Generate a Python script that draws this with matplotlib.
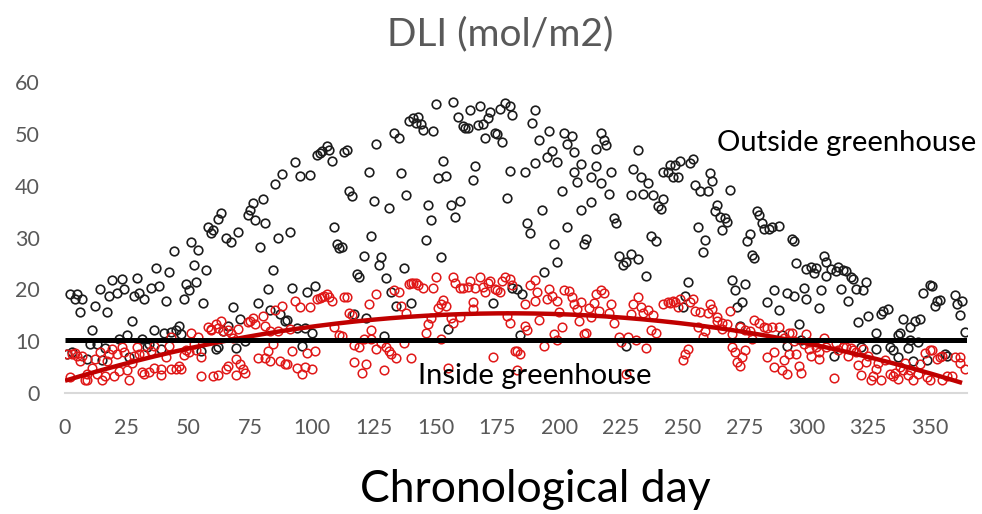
import numpy as np
import matplotlib
matplotlib.use("Agg")
import matplotlib.pyplot as plt

plt.rcParams['font.family'] = ['Lato', 'DejaVu Sans']

# Daily light integral outside the greenhouse (day of year, mol/m2)
outside_day = [
    1, 2, 3, 4, 5, 6, 7, 9, 10, 11, 12, 13, 14, 15, 16, 17, 18, 19,
    21, 22, 23, 24, 25, 26, 27, 28, 29, 30, 31, 32, 33, 34, 35, 36, 37, 38, 39, 40,
    41, 42, 43, 44, 45, 46, 47, 48, 49, 50, 51, 52, 53, 54, 55, 56, 57, 58, 59, 60, 61, 62,
    62, 63, 64, 65, 66, 67, 68, 69, 70, 71, 73, 74, 75, 76, 77, 78, 79, 80, 81, 82,
    83, 84, 85, 86, 87, 88, 89, 90, 91, 92, 93, 94, 95, 96, 97, 98, 99, 100, 101, 102,
    103, 104, 106, 107, 108, 109, 110, 111, 112, 113, 114, 115, 116, 117, 118, 119, 121,
    122, 123, 124, 125, 126, 127, 128, 129, 130, 131, 132, 133, 134, 135, 136, 137, 138, 139,
    140, 141, 142, 143, 144, 145, 146, 147, 148, 149, 150, 151, 152, 153, 154, 155, 156, 157,
    158, 159, 160, 161, 162, 163, 164, 165, 166, 167, 168, 169, 170, 171, 172, 173, 174, 175,
    176, 177, 178, 179, 180, 180, 181, 181,
    183, 184, 185, 186, 187, 188, 189, 190, 190, 192, 193, 194, 195, 196, 197, 198, 199, 199,
    201, 202, 203, 203, 205, 206, 206, 207, 209, 209, 210, 211, 213, 213, 215, 215, 217, 217,
    218, 219, 220, 221, 222, 223, 224, 226, 227, 227, 229, 229, 230, 232, 232, 233, 234, 235,
    236, 237, 238, 239, 240, 241, 242, 242,
    244, 245, 246, 247, 248, 249, 250, 251, 252, 253, 254, 255, 256, 257, 258, 259, 260, 261,
    262, 263, 264, 265, 266, 267, 268, 269, 270, 271, 272, 273, 274, 275, 276, 277, 278, 279,
    280, 281, 282, 283, 284, 285, 286, 287, 289, 289, 290, 292, 292, 294, 295, 295, 296, 297,
    298, 299, 300, 300, 302, 303,
    304, 305, 306, 307, 308, 308, 310, 311, 312, 313, 314, 315, 316, 317, 318, 319, 320, 321,
    322, 323, 324, 325, 328, 328, 330, 331, 333, 334, 335, 337, 337, 338, 339, 341, 342, 342,
    343, 344, 345, 346, 347, 349, 350, 351, 352, 353, 354, 356, 357, 360, 361, 362, 363, 364,
]
outside_dli = [
    7.5, 19.1, 7.9, 18.2, 19.1, 15.7, 18.2, 6.6, 9.5, 12.1, 16.9, 9.5, 20.0, 6.5, 8.7, 15.7, 18.8, 21.8,
    19.3, 10.4, 22.1, 20.1, 11.3, 7.0, 14.0, 18.7, 22.2, 19.4, 10.4, 18.1, 8.9, 9.5, 20.3, 12.2, 24.2, 20.6, 8.6, 11.6,
    17.8, 23.4, 11.8, 27.4, 12.2, 13.0, 11.4, 18.2, 21.0, 19.9, 29.2, 24.8, 21.4, 27.5, 8.1, 17.3, 23.7, 32.1, 30.9, 31.4, 8.6, 33.6,
    9.0, 34.7, 12.0, 30.0, 13.0, 29.1, 16.7, 8.7, 31.1, 14.4, 10.0, 34.4, 35.3, 36.6, 33.4, 17.3, 28.1, 37.5, 32.8, 20.0,
    16.0, 23.7, 40.3, 29.9, 15.3, 42.3, 14.0, 14.1, 31.1, 20.2, 44.5, 12.6, 41.9, 9.2, 12.6, 19.5, 42.1, 11.6, 20.7, 45.8,
    46.3, 46.6, 47.6, 46.8, 44.8, 32.0, 28.7, 27.9, 28.1, 46.5, 46.8, 38.9, 37.9, 15.3, 22.9, 22.4, 26.4,
    14.5, 42.7, 30.3, 37.0, 48.0, 24.7, 26.3, 11.1, 22.2, 35.7, 19.6, 50.1, 16.8, 49.2, 42.5, 24.1, 38.2, 52.5,
    17.3, 53.1, 52.1, 53.2, 51.9, 50.7, 29.5, 36.2, 33.3, 50.5, 55.7, 41.4, 26.3, 44.8, 41.8, 12.4, 36.3, 56.0,
    33.9, 53.2, 37.1, 51.5, 51.0, 51.0, 54.5, 41.0, 43.8, 51.6, 55.4, 51.9, 49.1, 53.1, 54.1, 17.3, 50.1, 50.0,
    54.7, 48.3, 55.9, 37.6, 55.4, 42.9, 53.5, 20.3,
    20.1, 11.3, 19.1, 42.6, 32.7, 30.8, 52.0, 44.4, 54.5, 48.8, 35.3, 23.3, 45.5, 50.5, 46.7, 28.8, 25.3, 44.5,
    38.9, 50.1, 32.1, 48.1, 49.6, 46.5, 42.7, 40.7, 35.3, 44.1, 28.8, 29.7, 41.7, 36.9, 43.8, 47.1, 40.4, 50.1,
    48.8, 47.9, 38.3, 42.7, 33.8, 32.8, 26.5, 24.7, 25.3, 9.1, 26.9, 38.1, 43.1, 25.9, 46.8, 41.7, 38.3, 22.5,
    40.4, 30.3, 38.1, 29.3, 36.1, 35.4, 42.6, 37.5,
    42.6, 44.0, 41.7, 44.0, 41.6, 44.7, 16.6, 18.7, 21.5, 44.3, 45.2, 40.2, 32.0, 38.9, 27.3, 29.5, 39.0, 42.5,
    40.8, 35.1, 36.3, 34.0, 31.5, 33.8, 33.0, 39.2, 21.8, 19.8, 16.6, 13.0, 17.5, 21.1, 29.3, 30.6, 26.6, 26.1,
    35.1, 34.4, 32.8, 31.6, 17.6, 31.6, 32.1, 19.8, 16.1, 32.3, 11.3, 19.3, 9.2, 29.7, 29.3, 18.7, 25.1, 13.4,
    10.3, 20.3, 24.0, 18.2, 24.3, 23.1,
    24.2, 16.5, 19.9, 26.5, 22.6, 25.3, 24.0, 7.2, 23.6, 24.3, 20.0, 23.7, 23.5, 17.8, 22.3, 22.0, 20.0, 13.8,
    8.9, 19.9, 21.4, 14.9, 8.5, 11.6, 15.3, 15.8, 16.3, 9.0, 8.3, 11.3, 6.9, 11.6, 14.4, 8.8, 10.3, 12.8,
    6.3, 14.0, 9.9, 14.4, 19.3, 6.4, 20.9, 20.7, 16.9, 17.8, 17.9, 7.6, 7.2, 19.0, 17.1, 15.1, 17.8, 11.8,
]

# Daily light integral inside the greenhouse
inside_day = [
    1, 2, 3, 4, 5, 6, 7, 8, 9, 9, 11, 12, 13, 14, 15, 16, 17, 18, 19, 20,
    21, 22, 23, 24, 25, 26, 27, 28, 29, 30, 31, 32, 32, 34, 35, 36, 36, 39, 39, 41,
    42, 43, 43, 45, 46, 47, 48, 49, 50, 51, 52, 53, 54, 55, 55, 58, 59, 59, 60, 61,
    62, 62, 63, 64, 65, 66, 66, 67, 68, 69, 69, 70, 71, 72, 73, 74, 75, 76, 77, 78,
    80, 81, 81, 82, 83, 83, 84, 85, 86, 87, 88, 89, 90, 91, 92, 93, 94, 95, 96, 97,
    98, 99, 100, 101, 102, 103, 104, 105, 106, 107, 108, 109, 111, 112, 113, 114, 115, 116, 117, 117,
    119, 120, 121,
    122, 123, 124, 124, 126, 126, 128, 129, 130, 131, 132, 133, 134, 135, 136, 137, 138, 139, 140, 140,
    141, 142, 143, 145, 146, 147, 148, 149, 150, 151, 152, 152, 153, 154, 155, 156, 157, 157, 158, 160,
    160, 161, 163, 164, 165, 165, 166, 168, 169, 170, 171, 172, 173, 174, 175, 176, 177, 178, 179, 180,
    180, 181, 182,
    183, 183, 184, 186, 186, 187, 188, 190, 190, 191, 192, 194, 195, 196, 197, 198, 199, 199, 200, 201,
    202, 204, 205, 206, 207, 208, 209, 210, 211, 212, 213, 214, 215, 216, 217, 218, 220, 221, 222, 224,
    225, 227, 228, 229, 230, 231, 232, 233, 234, 235, 236, 237, 238, 239, 242,
    244, 245, 246, 247, 248, 249, 250, 251, 252, 253, 254, 255, 256, 257, 258, 259, 260, 261, 262, 264,
    264, 266, 266, 268, 269, 270, 270, 271, 272, 273, 273, 274, 275, 275, 277, 278, 279, 281, 283, 284,
    284, 286, 287, 287, 289, 290, 291, 291, 292, 293, 293, 294, 295, 296, 297, 298, 299, 300, 301, 301,
    302,
    304, 305, 305, 307, 308, 311, 312, 313, 315, 316, 317, 318, 319, 320, 321, 322, 323, 324, 325, 326,
    327, 328, 329, 330, 332, 334, 335, 336, 337, 338, 339, 340, 341, 342, 343, 345, 346, 348, 349, 350,
    350, 351, 353, 354, 355, 355, 357, 359, 360, 362, 362, 364,
]
inside_dli = [
    7.6, 3.1, 7.5, 7.8, 7.1, 6.2, 7.1, 2.6, 2.6, 3.8, 4.9, 6.6, 3.8, 7.9, 2.5, 3.4, 6.2, 7.5, 8.6, 3.3,
    7.6, 4.2, 8.9, 7.9, 4.5, 2.6, 5.8, 7.2, 8.9, 7.6, 4.1, 7.5, 3.7, 4.1, 8.2, 4.9, 9.2, 3.5, 4.7, 6.9,
    9.2, 4.7, 10.9, 4.7, 5.3, 4.7, 7.3, 8.3, 7.9, 11.6, 9.5, 8.3, 10.9, 3.3, 6.9, 12.7, 12.2, 12.4, 3.4, 13.3,
    12.6, 3.6, 13.9, 11.9, 4.7, 12.1, 5.2, 11.6, 10.7, 6.6, 3.5, 12.4, 5.7, 4.7, 3.9, 13.7, 14.0, 14.5, 13.3, 6.8,
    14.9, 13.0, 6.8, 8.1, 11.9, 6.3, 9.4, 16.0, 11.9, 6.2, 16.9, 5.6, 5.6, 12.3, 8.1, 17.8, 4.9, 16.7, 3.7, 5.0,
    7.7, 16.7, 4.6, 8.2, 18.1, 18.4, 18.5, 18.8, 19.1, 18.6, 17.8, 12.7, 11.3, 11.1, 18.5, 18.6, 15.5, 15.1, 6.0, 9.3,
    8.9, 3.9, 10.5,
    5.7, 17.1, 12.2, 10.5, 8.6, 19.2, 9.6, 4.5, 8.9, 8.1, 7.6, 19.9, 6.8, 19.6, 16.8, 9.6, 15.4, 21.0, 6.8, 21.2,
    21.2, 21.3, 20.9, 20.2, 11.7, 13.3, 14.5, 20.2, 22.3, 16.5, 17.1, 10.5, 18.0, 16.8, 4.9, 14.5, 22.3, 13.5, 21.2, 14.6,
    20.3, 20.3, 20.4, 21.6, 16.3, 17.5, 20.3, 22.3, 20.5, 19.6, 21.3, 21.6, 6.9, 20.0, 19.8, 19.6, 21.6, 22.3, 14.9, 22.1,
    13.6, 20.9, 8.2,
    8.1, 4.4, 7.6, 17.1, 13.0, 12.2, 20.9, 17.7, 21.8, 19.6, 14.1, 9.1, 18.1, 20.1, 18.8, 11.4, 10.3, 17.8, 15.6, 12.7,
    19.9, 19.7, 18.5, 17.1, 16.2, 14.0, 17.5, 11.4, 11.7, 16.5, 14.6, 17.4, 19.1, 15.9, 19.9, 19.3, 15.4, 17.1, 13.5, 10.8,
    9.8, 3.8, 10.8, 15.3, 17.1, 10.3, 18.6, 16.6, 15.4, 8.8, 16.0, 12.1, 15.1, 11.6, 17.1,
    17.5, 17.3, 17.8, 17.6, 16.7, 18.1, 6.5, 7.5, 8.6, 17.6, 18.1, 15.9, 12.7, 15.6, 10.9, 11.9, 15.5, 17.1, 16.3, 14.7,
    13.9, 12.4, 13.5, 13.4, 15.8, 11.4, 8.9, 7.9, 6.0, 5.2, 12.7, 6.9, 12.2, 8.4, 11.9, 10.5, 14.1, 13.6, 12.7, 6.9,
    12.5, 12.7, 7.9, 5.0, 12.8, 4.5, 6.4, 10.7, 3.8, 7.6, 11.7, 11.7, 10.1, 7.5, 5.3, 4.0, 9.4, 11.4, 8.5, 9.8,
    7.2,
    8.9, 6.6, 7.9, 10.7, 8.9, 2.9, 9.6, 8.3, 8.9, 9.0, 7.1, 8.7, 8.4, 7.9, 5.4, 3.6, 8.6, 6.0, 7.2, 2.6,
    3.3, 4.7, 5.8, 2.5, 6.4, 3.7, 3.3, 4.0, 2.8, 5.0, 4.5, 5.8, 3.6, 4.5, 2.5, 3.8, 5.7, 7.8, 3.2, 2.5,
    8.4, 8.4, 6.6, 6.9, 7.1, 2.6, 3.3, 3.3, 6.9, 5.9, 6.9, 4.6,
]

threshold_dli = 10.3
year_span = [0, 365]
x_ticks = [0, 25, 50, 75, 100, 125, 150, 175, 200, 225, 250, 275, 300, 325, 350]
y_ticks = [0, 10, 20, 30, 40, 50, 60]

assert len(outside_day) == len(outside_dli)
assert len(inside_day) == len(inside_dli)

grey = "#595959"

fig = plt.figure(figsize=(9.82, 5.14), dpi=100)
W, H = 982, 514
ax = fig.add_axes([65 / W, 1 - 393.3 / H, 902 / W, (393.3 - 81.7) / H])

ax.plot(outside_day, outside_dli, "o", ms=6.2, mfc="none", mec="#1c1c1c", mew=1.2)
ax.plot(inside_day, inside_dli, "o", ms=6.2, mfc="none", mec="#e01818", mew=1.1)

# second order trend through the inside values
coef = np.polyfit(inside_day, inside_dli, 2)
t = np.linspace(year_span[0], 363, 200)
ax.plot(t, np.polyval(coef, t), color="#c00000", lw=3.2, solid_capstyle="butt")

ax.plot(year_span, [threshold_dli, threshold_dli], color="black", lw=3.6, solid_capstyle="butt")

ax.set_xlim(year_span)
ax.set_ylim(0, 60)
ax.set_xticks(x_ticks)
ax.set_yticks(y_ticks)
ax.tick_params(length=0, labelsize=15.5, labelcolor=grey)
ax.tick_params(axis="x", pad=18)
ax.tick_params(axis="y", pad=18)
for side in ("top", "right", "left"):
    ax.spines[side].set_visible(False)
ax.spines["bottom"].set_color("#d9d9d9")
ax.spines["bottom"].set_linewidth(1.5)

ax.text(263.8, 46.7, "Outside greenhouse", fontsize=21, va="baseline", ha="left", color="black")
ax.text(142.8, 1.8, "Inside greenhouse", fontsize=21, va="baseline", ha="left", color="black")

fig.text(500 / W, 1 - 45 / H, "DLI (mol/m2)", fontsize=28, color=grey, ha="center", va="baseline")
fig.text(535 / W, 1 - 502 / H, "Chronological day", fontsize=32, color="black", ha="center", va="baseline")

fig.savefig("out.png", dpi=100)
